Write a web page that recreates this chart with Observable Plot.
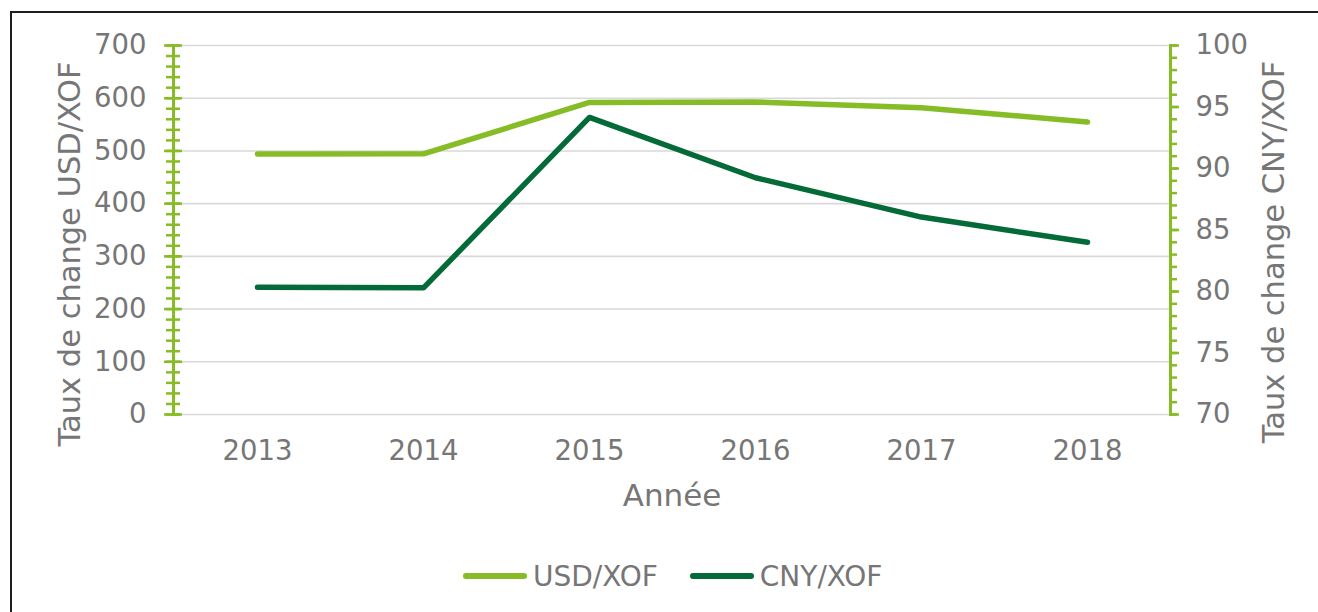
<!DOCTYPE html>
<html><head><meta charset="utf-8">
<script src="https://cdn.jsdelivr.net/npm/d3@7"></script>
<script src="https://cdn.jsdelivr.net/npm/@observablehq/plot@0.6"></script>
<style>
body{margin:0;background:#fff;}
#wrap{position:relative;width:1318px;height:612px;overflow:hidden;font-family:"DejaVu Sans",Verdana,sans-serif;background:#fff;}
#border{position:absolute;left:10px;top:11px;width:1400px;height:800px;border:2px solid #1e1e1e;box-sizing:border-box;}
#chart{position:absolute;left:0;top:0;}
#legend{position:absolute;top:558px;left:463px;height:36px;display:flex;align-items:center;font-size:28px;color:#767676;white-space:nowrap;}
.item{display:flex;align-items:center;margin-right:32px;}
.item svg{margin-right:6px;}
.ytitle{position:absolute;font-size:30.5px;line-height:1;color:#767676;white-space:nowrap;transform:translate(-50%,-50%) rotate(-90deg);}
</style></head>
<body><div id="wrap"><div id="border"></div><div id="chart"></div>
<div class="ytitle" id="ltitle" style="left:69.5px;top:253.5px;"></div>
<div class="ytitle" id="rtitle" style="left:1274px;top:251.5px;"></div>
<div id="legend"></div></div>
<script>
const years = ["2013", "2014", "2015", "2016", "2017", "2018"];
const usdXof = [494, 494.5, 592, 593, 582, 555];
const cnyXof = [80.35, 80.3, 94.15, 89.25, 86.05, 84.0];
const seriesNames = ["USD/XOF", "CNY/XOF"];
const seriesColors = ["#86BC25", "#046A38"];
const leftTicks = [0, 100, 200, 300, 400, 500, 600, 700];
const rightTicks = [70, 75, 80, 85, 90, 95, 100];
const leftTitle = "Taux de change USD/XOF";
const rightTitle = "Taux de change CNY/XOF";
const xTitle = "Année";

const leftMin = 0, leftMax = 700, rightMin = 70, rightMax = 100;
const toLeft = v => leftMin + (v - rightMin) * (leftMax - leftMin) / (rightMax - rightMin);
const fromLeft = v => rightMin + (v - leftMin) * (rightMax - rightMin) / (leftMax - leftMin);

const usdRows = years.map((year, i) => ({year, value: usdXof[i]}));
const cnyRows = years.map((year, i) => ({year, value: toLeft(cnyXof[i])}));

const textColor = "#767676";
const axisColor = "#86BC25";
const H = 530;
const leftMinor = d3.range(leftMin, leftMax + 1, 20);
const rightMinor = d3.range(rightMin, rightMax + 1, 1).map(toLeft);

const tickOpts = {fill: "none", label: null, stroke: axisColor, strokeWidth: 2.5, strokeOpacity: 1};
const textOpts = {tickSize: 0, label: null, fill: textColor, fontSize: 27.5};

const plot = Plot.plot({
  width: 1318, height: H,
  marginLeft: 173, marginRight: 148, marginTop: 45, marginBottom: H - 414,
  style: {fontFamily: '"DejaVu Sans", Verdana, sans-serif', fontSize: "27px", color: textColor, background: "transparent", overflow: "visible"},
  x: {type: "point", domain: years, padding: 0.5, axis: null},
  y: {domain: [leftMin, leftMax], axis: null},
  marks: [
    Plot.gridY(leftTicks, {stroke: "#d9d9d9", strokeOpacity: 1, strokeWidth: 1.6}),
    Plot.frame({anchor: "left", stroke: axisColor, strokeWidth: 3}),
    Plot.frame({anchor: "right", stroke: axisColor, strokeWidth: 3}),
    Plot.axisY(leftMinor, {...tickOpts, anchor: "left", tickSize: 14, dx: 7}),
    Plot.axisY(leftTicks, {...tickOpts, anchor: "left", tickSize: 18, dx: 9}),
    Plot.axisY(rightMinor, {...tickOpts, anchor: "right", tickSize: 6}),
    Plot.axisY(rightTicks.map(toLeft), {...tickOpts, anchor: "right", tickSize: 8}),
    Plot.axisY(leftTicks, {...textOpts, anchor: "left", tickPadding: 27}),
    Plot.axisY(rightTicks.map(toLeft), {...textOpts, anchor: "right", tickPadding: 25, tickFormat: d => String(Math.round(fromLeft(d)))}),
    Plot.axisX(years, {...textOpts, anchor: "bottom", tickPadding: 26}),
    Plot.line(usdRows, {x: "year", y: "value", stroke: seriesColors[0], strokeWidth: 5.5, strokeLinecap: "round", strokeLinejoin: "round"}),
    Plot.line(cnyRows, {x: "year", y: "value", stroke: seriesColors[1], strokeWidth: 5.5, strokeLinecap: "round", strokeLinejoin: "round"}),
    Plot.text([xTitle], {text: d => d, frameAnchor: "bottom", dy: 91, fontSize: 31, fill: textColor})
  ]
});
document.getElementById("chart").appendChild(plot);
document.getElementById("ltitle").textContent = leftTitle;
document.getElementById("rtitle").textContent = rightTitle;

const legend = document.getElementById("legend");
seriesNames.forEach((name, i) => {
  const item = document.createElement("div");
  item.className = "item";
  item.innerHTML = `<svg width="64" height="10"><line x1="3" y1="5" x2="61" y2="5" stroke="${seriesColors[i]}" stroke-width="6" stroke-linecap="round"/></svg><span>${name}</span>`;
  legend.appendChild(item);
});
</script>
</body></html>
